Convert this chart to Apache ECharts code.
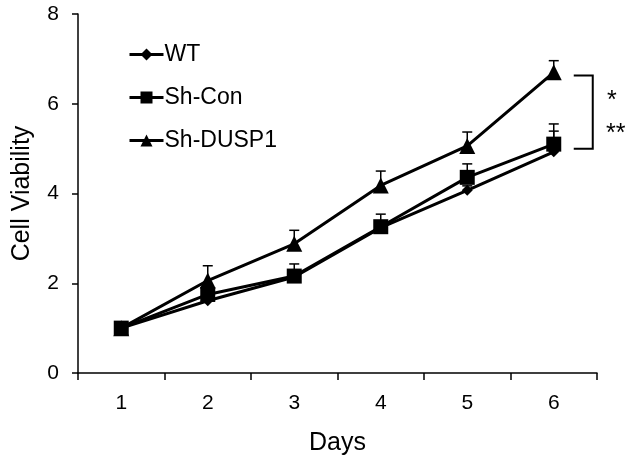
<!DOCTYPE html>
<html><head><meta charset="utf-8">
<script src="https://cdn.jsdelivr.net/npm/echarts@6/dist/echarts.min.js"></script>
<style>html,body{margin:0;padding:0;background:#fff}#c{width:630px;height:461px}</style>
</head><body><div id="c"></div>
<script>
const days = ['1','2','3','4','5','6'];
const wt = [1.0, 1.61, 2.14, 3.24, 4.07, 4.93];
const shCon = [1.0, 1.75, 2.16, 3.26, 4.36, 5.1];
const shDusp1 = [1.0, 2.06, 2.88, 4.18, 5.06, 6.70];
const wtErr = [0, 0.08, 0.1, 0.1, 0.1, 0.46];
const shConErr = [0, 0.15, 0.27, 0.28, 0.3, 0.45];
const shDusp1Err = [0, 0.33, 0.3, 0.32, 0.31, 0.26];
const yTicks = [0, 2, 4, 6, 8];
const bracketRange = [5.0, 6.63];
const sigLabels = ['*', '**'];
const font = 'Liberation Sans, Arial, sans-serif';

const chart = echarts.init(document.getElementById('c'));

function errSeries(vals, errs) {
  return {
    type: 'custom',
    z: 1,
    silent: true,
    data: vals.map((v, i) => [i, v, v + errs[i]]),
    renderItem: function (params, api) {
      if (api.value(2) - api.value(1) <= 0) return null;
      const p0 = api.coord([api.value(0), api.value(1)]);
      const p1 = api.coord([api.value(0), api.value(2)]);
      const hw = 5;
      return {
        type: 'group',
        children: [
          {type: 'line', shape: {x1: p0[0], y1: p0[1], x2: p1[0], y2: p1[1]}, style: {stroke: '#000', lineWidth: 1.5}},
          {type: 'line', shape: {x1: p1[0] - hw, y1: p1[1], x2: p1[0] + hw, y2: p1[1]}, style: {stroke: '#000', lineWidth: 1.5}}
        ]
      };
    }
  };
}

function lineSeries(name, data, symbol, size) {
  return {
    name: name, type: 'line', data: data, z: 3,
    symbol: symbol, symbolSize: size, showAllSymbol: true,
    lineStyle: {color: '#000', width: 3},
    itemStyle: {color: '#000', borderWidth: 0},
    emphasis: {disabled: true}
  };
}

chart.setOption({
  animation: false,
  backgroundColor: '#fff',
  grid: {left: 78, right: 33, top: 14, bottom: 85},
  legend: {
    orient: 'vertical', left: 123, top: 38, itemGap: 20,
    itemWidth: 34, itemHeight: 15,
    lineStyle: {width: 3, color: '#000'},
    textStyle: {fontFamily: font, fontSize: 23, color: '#000', padding: [0, 0, 0, -4]},
    data: ['WT', 'Sh-Con', 'Sh-DUSP1']
  },
  xAxis: {
    type: 'category', data: days, boundaryGap: true,
    name: 'Days', nameLocation: 'middle', nameGap: 58,
    nameTextStyle: {fontFamily: font, fontSize: 25, color: '#000'},
    axisLine: {lineStyle: {color: '#000', width: 1.5}},
    axisTick: {show: true, length: 7, inside: false, lineStyle: {color: '#000', width: 1.5}},
    axisLabel: {fontFamily: font, fontSize: 21, color: '#000', margin: 20},
    splitLine: {show: false}
  },
  yAxis: {
    type: 'value', min: 0, max: 8, interval: 2,
    name: 'Cell Viability', nameLocation: 'middle', nameGap: 43,
    nameTextStyle: {fontFamily: font, fontSize: 25, color: '#000'},
    axisLine: {show: true, lineStyle: {color: '#000', width: 1.5}},
    axisTick: {show: true, length: 6, lineStyle: {color: '#000', width: 1.5}},
    axisLabel: {fontFamily: font, fontSize: 21, color: '#000', margin: 19,
      formatter: v => yTicks.includes(v) ? String(v) : ''},
    splitLine: {show: false}
  },
  series: [
    errSeries(wt, wtErr),
    errSeries(shCon, shConErr),
    errSeries(shDusp1, shDusp1Err),
    lineSeries('WT', wt, 'diamond', 11),
    lineSeries('Sh-Con', shCon, 'rect', 15),
    lineSeries('Sh-DUSP1', shDusp1, 'triangle', 16)
  ]
});

// significance bracket
const pTop = chart.convertToPixel({gridIndex: 0}, [5, bracketRange[1]]);
const pBot = chart.convertToPixel({gridIndex: 0}, [5, bracketRange[0]]);
const bx = pTop[0] + 39;
chart.setOption({
  graphic: [
    {type: 'polyline', shape: {points: [[bx - 19, pTop[1]], [bx, pTop[1]], [bx, pBot[1]], [bx - 19, pBot[1]]]},
     style: {stroke: '#000', lineWidth: 2, fill: null}},
    {type: 'text', x: bx + 19, y: pTop[1] + 26, style: {text: sigLabels[0], font: '25px ' + font, fill: '#000', align: 'center', verticalAlign: 'middle'}},
    {type: 'text', x: bx + 23, y: pTop[1] + 59, style: {text: sigLabels[1], font: '25px ' + font, fill: '#000', align: 'center', verticalAlign: 'middle'}}
  ]
});
</script></body></html>
